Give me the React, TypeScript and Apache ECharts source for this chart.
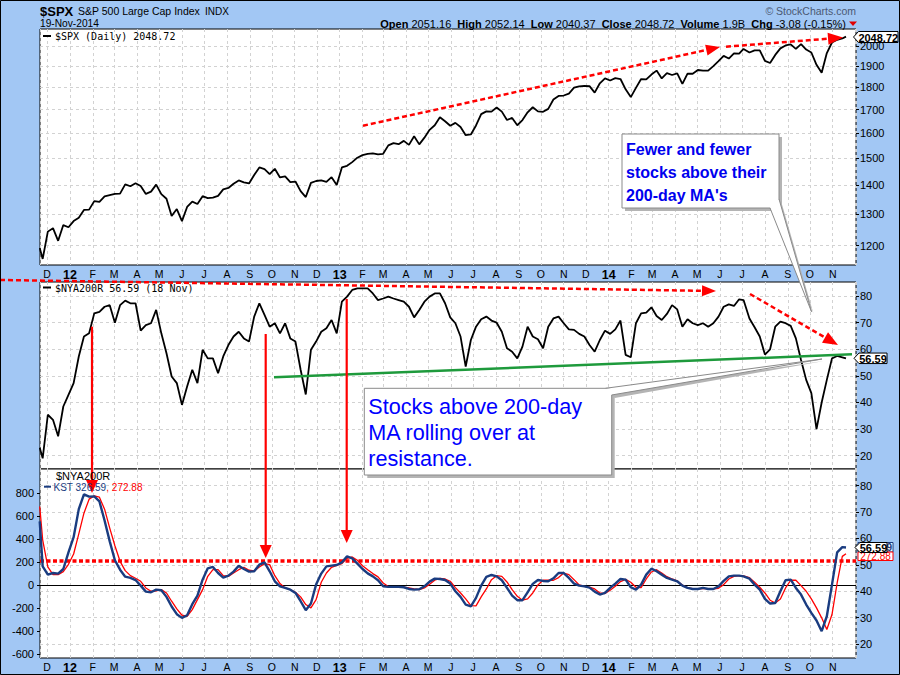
import React, { useEffect, useRef } from 'react';
import * as echarts from 'echarts';

const DATES = [
  '2011-11-21','2011-11-25','2011-12-02','2011-12-09','2011-12-16','2011-12-23','2011-12-30',
  '2012-01-06','2012-01-13','2012-01-20','2012-01-27','2012-02-03','2012-02-10','2012-02-17','2012-02-24',
  '2012-03-02','2012-03-09','2012-03-16','2012-03-23','2012-03-30','2012-04-06','2012-04-13','2012-04-20','2012-04-27',
  '2012-05-04','2012-05-11','2012-05-18','2012-05-25','2012-06-01','2012-06-08','2012-06-15','2012-06-22','2012-06-29',
  '2012-07-06','2012-07-13','2012-07-20','2012-07-27','2012-08-03','2012-08-10','2012-08-17','2012-08-24','2012-08-31',
  '2012-09-07','2012-09-14','2012-09-21','2012-09-28','2012-10-05','2012-10-12','2012-10-19','2012-10-26',
  '2012-11-02','2012-11-09','2012-11-16','2012-11-23','2012-11-30','2012-12-07','2012-12-14','2012-12-21','2012-12-28',
  '2013-01-04','2013-01-11','2013-01-18','2013-01-25','2013-02-01','2013-02-08','2013-02-15','2013-02-22',
  '2013-03-01','2013-03-08','2013-03-15','2013-03-22','2013-03-29','2013-04-05','2013-04-12','2013-04-19','2013-04-26',
  '2013-05-03','2013-05-10','2013-05-17','2013-05-24','2013-05-31','2013-06-07','2013-06-14','2013-06-21','2013-06-28',
  '2013-07-05','2013-07-12','2013-07-19','2013-07-26','2013-08-02','2013-08-09','2013-08-16','2013-08-23','2013-08-30',
  '2013-09-06','2013-09-13','2013-09-20','2013-09-27','2013-10-04','2013-10-11','2013-10-18','2013-10-25',
  '2013-11-01','2013-11-08','2013-11-15','2013-11-22','2013-11-29','2013-12-06','2013-12-13','2013-12-20','2013-12-27',
  '2014-01-03','2014-01-10','2014-01-17','2014-01-24','2014-01-31','2014-02-07','2014-02-14','2014-02-21','2014-02-28',
  '2014-03-07','2014-03-14','2014-03-21','2014-03-28','2014-04-04','2014-04-11','2014-04-18','2014-04-25',
  '2014-05-02','2014-05-09','2014-05-16','2014-05-23','2014-05-30','2014-06-06','2014-06-13','2014-06-20','2014-06-27',
  '2014-07-03','2014-07-11','2014-07-18','2014-07-25','2014-08-01','2014-08-08','2014-08-15','2014-08-22','2014-08-29',
  '2014-09-05','2014-09-12','2014-09-19','2014-09-26','2014-10-03','2014-10-10','2014-10-17','2014-10-24','2014-10-31',
  '2014-11-07','2014-11-14','2014-11-19'
];

const SPX = [
  1193,1160,1244,1255,1215,1265,1258,
  1278,1289,1315,1316, 1345,1342,1361,1366, 1370,1371,1404,1397,1408, 1398,1370,1378,1403,
  1369,1353,1295,1318, 1278,1325,1343,1335,1362, 1355,1357,1363,1386, 1391,1406,1418,1411,1407,
  1438,1466,1460,1441, 1461,1429,1433,1412, 1414,1380,1359,1409,1416, 1418,1413,1430,1402,
  1466,1472,1486,1503, 1513,1518,1520,1516, 1518,1551,1560,1556,1569, 1553,1588,1555,1582,
  1614,1633,1667,1650,1631, 1643,1626,1592,1595, 1632,1680,1692,1691, 1709,1691,1655,1664,1633,
  1655,1688,1710,1692, 1690,1703,1744,1760, 1762,1771,1798,1804,1806, 1805,1775,1818,1841,
  1831,1842,1838,1790,1755, 1797,1838,1836,1859, 1878,1841,1866,1857, 1865,1815,1864,1863,
  1881,1878,1878,1900,1924, 1950,1937,1963,1961, 1985,1967,1978,1978, 1925,1915,1955,1988,2003,
  2008,1985,2010,1982, 1967,1906,1868,1964,2018, 2032,2039,2048.72
];

const NYA200R = [
  23,19,35.4,33.5,27.3,38.5,42.9,
  47.3,57.3,64.8,66, 73.5,74.1,76,76.6, 70,76.6,78.3,77.3,77.3, 67,69.1,69.8,74.8,
  66,58.5,49.8,47.3, 39.1,46,52.3,47.3,59.8, 56.6,56.6,51,57.3, 61.6,64.8,66.6,64.1,62.9,
  72.3,77.3,72.9,68.5, 69.8,66,69.8,64.1, 62.9,52.3,43,59.8,62.9, 66.6,67.9,71,66,
  77.9,79.8,82.3,82.9, 82.9,82.9,81,78.5, 79.1,79.8,79.1,78.5,77.9, 76,72,74.8,77.9,
  79.8,81,81,77.3,72, 69.8,64.8,53.5,63.5, 68.5,71.3,72.3,70.8, 70,66.6,60.4,59.1,56.6,
  61,68.5,64.8,63.8, 60.4,68.5,71.6,72.3, 69.8,67.5,67.3,65.8,64.8, 61.6,59.1,63.5,67,
  65.8,67.5,70.8,57.9,57, 69.8,73.5,73.8,75.8, 72.5,71,73.3,76.6, 75,68.5,71.3,69.8,
  69.1,69.8,68.5,69.8,72.3, 76,76.9,76.3,78.8, 78.5,71.6,68.3,64.8, 58,60,68.5,70.4,69.8,
  68.8,64.1,56,48.5, 43.5,30,40,48.5,56.6, 57.5,57,56.59
];

const KST = [
  554,162,90,104,99,139,284,
  417,661,790,770, 772,728,562,380, 215,133,72,61,43, -6,-58,-64,-41,
  -46,-104,-188,-255, -287,-264,-168,-93,46, 145,157,104,64, 81,116,168,139,116,
  119,177,197,119, 32,-12,-26,-41, -70,-142,-220,-162,3, 99,162,168,174,
  197,249,232,186, 139,101,75,41, -12,-17,-17,-17,-20, -35,-41,-38,-12,
  29,55,52,43,12, -55,-104,-171,-186, -113,-6,70,87, 75,41,-26,-93,-133,
  -133,-64,9,43, 35,32,58,104, 104,61,12,-6,-12, -23,-58,-84,-70,
  -26,12,52,46,-20, -41,3,90,142, 119,90,61,46, 32,-6,-26,-35,
  -35,-26,-35,-35,-12, 35,75,81,81, 75,55,3,-41, -122,-162,-157,-55,41,
  46,-26,-84,-171, -244,-310,-403,-273,3, 284,330,326.59
];

const KST_SIGNAL = [
  684,394,157,90,90,116,180,
  270,446,626,748, 777,765,661,496, 342,206,125,81,58, 32,-26,-55,-52,
  -41,-70,-142,-209, -264,-273,-215,-128,-41, 75,133,133,81, 75,104,133,154,128,
  122,157,186,177, 81,12,-26,-41, -64,-104,-171,-200,-128, 23,104,154,171,
  186,232,244,215, 168,133,99,70, 17,-14,-20,-20,-20, -26,-35,-41,-26,
  6,41,58,52,32, -23,-70,-122,-180, -183,-104,-35,46, 81,75,26,-41,-99,
  -133,-122,-70,0, 41,41,41,64, 104,90,46,0,-12, -20,-35,-70,-75,
  -46,-12,29,49,23, -20,-23,52,113, 133,104,72,52, 35,0,-26,-32,
  -35,-32,-32,-35,-29, 3,52,75,81, 78,64,23,-20, -70,-133,-157,-122,-26,
  41,41,-6,-55, -122,-200,-287,-388,-258, 17,249,272.88
];

const SPX_TICKS = [1200, 1300, 1400, 1500, 1600, 1700, 1800, 1900, 2000];
const PCT_TICKS = [20, 30, 40, 50, 60, 70, 80];
const KST_TICKS = [-600, -400, -200, 0, 200, 400, 600, 800];
const KST_RESISTANCE = 211;
const MONTH_LETTERS = ['J', 'F', 'M', 'A', 'M', 'J', 'J', 'A', 'S', 'O', 'N', 'D'];

const FONT = '"Liberation Sans", Arial, sans-serif';
const MONO = '"DejaVu Sans Mono", "Liberation Mono", monospace';
const DAY = 86400000;
const X_MIN = new Date(2011, 10, 21, 9).getTime();
const X_MAX = new Date(2014, 11, 2, 14).getTime();
const LAST_LABEL = new Date(2014, 10, 20).getTime();
const BG = '#a2c7f4';
const NAVY = '#1a3c80';
const GRIDLINE = { color: '#d2d2d2', type: [3, 3] as any, width: 1 };

function xAxisFor(gridIndex: number, showLabels: boolean) {
  return {
    type: 'time', gridIndex, min: X_MIN, max: X_MAX,
    minInterval: 27 * DAY, maxInterval: 31 * DAY, splitNumber: 40,
    axisLine: { show: false }, axisTick: { show: false },
    splitLine: { show: true, lineStyle: GRIDLINE },
    axisLabel: {
      show: showLabels, margin: 3, color: '#000', fontSize: 10.5, fontFamily: FONT,
      showMinLabel: false, showMaxLabel: false, hideOverlap: false,
      formatter: (v: number) => {
        if (v > LAST_LABEL) return '';
        const d = new Date(v);
        const m = d.getMonth();
        return m === 0 ? `{y|${String(d.getFullYear()).slice(2)}}` : `{m|${MONTH_LETTERS[m]}}`;
      },
      rich: {
        y: { fontWeight: 'bold', fontSize: 12.5, fontFamily: FONT, color: '#000' },
        m: { fontSize: 10.5, fontFamily: FONT, color: '#000' },
      },
    },
  };
}

function yAxisFor(gridIndex: number, position: string, min: number, max: number, ticks: number[], fmt: (v: number) => string, split: boolean) {
  return {
    type: 'value', gridIndex, position, min, max,
    axisLine: { show: false },
    axisTick: { show: true, length: 3, customValues: ticks, lineStyle: { color: '#000' } },
    axisLabel: { customValues: ticks, formatter: fmt, color: '#000', fontSize: 11, fontFamily: FONT, margin: position === 'right' ? 4 : 6 },
    splitLine: { show: split, lineStyle: GRIDLINE },
  };
}

function txt(x: number, y: number, text: string, o: any = {}) {
  return {
    type: 'text', x, y, z: 180, silent: true,
    style: {
      text, fill: o.fill || '#000', fontSize: o.size || 11, fontFamily: o.family || FONT,
      fontWeight: o.weight || 'normal', align: o.align || 'left', verticalAlign: 'middle', rich: o.rich,
    },
  };
}

function arrow(x1: number, y1: number, x2: number, y2: number, dashed: boolean, width: number, headLen: number, headHalf: number) {
  const dx = x2 - x1, dy = y2 - y1, L = Math.hypot(dx, dy);
  const ux = dx / L, uy = dy / L;
  const bx = x2 - ux * headLen, by = y2 - uy * headLen;
  const px = -uy, py = ux;
  return [
    { type: 'line', z: 150, silent: true, shape: { x1, y1, x2: bx, y2: by }, style: { stroke: '#ff0000', lineWidth: width, lineDash: dashed ? [5, 3] : null } },
    { type: 'polygon', z: 150, silent: true, shape: { points: [[x2, y2], [bx + px * headHalf, by + py * headHalf], [bx - px * headHalf, by - py * headHalf]] }, style: { fill: '#ff0000' } },
  ];
}

function tag(x: number, y: number, w: number, h: number, text: string, color: string, z: number) {
  return [
    { type: 'polygon', z, silent: true, shape: { points: [[x, y], [x + 5, y - h / 2], [x + w, y - h / 2], [x + w, y + h / 2], [x + 5, y + h / 2]] }, style: { fill: '#fff', stroke: color, lineWidth: 1 } },
    { type: 'text', z: z + 1, silent: true, x: x + 5 + (w - 5) / 2, y: y + 0.5, style: { text, fill: color, fontSize: 11, fontWeight: 'bold', fontFamily: FONT, align: 'center', verticalAlign: 'middle' } },
  ];
}

function buildGraphics() {
  const g: any[] = [];
  // header
  g.push(txt(40, 11, '$SPX', { size: 13, weight: 'bold' }));
  g.push(txt(78, 11, 'S&P 500 Large Cap Index', { size: 10.5 }));
  g.push(txt(205, 11, 'INDX', { size: 10 }));
  g.push(txt(40, 23.5, '19-Nov-2014', { size: 10.2 }));
  g.push(txt(856, 10.5, '\u00a9 StockCharts.com', { size: 10.5, align: 'right', fill: '#4a5872' }));
  g.push(txt(846, 23.5, '{b|Open} 2051.16  {b|High} 2052.14  {b|Low} 2040.37  {b|Close} 2048.72  {b|Volume} 1.9B  {b|Chg} -3.08 (-0.15%)', {
    size: 11, align: 'right', rich: { b: { fontWeight: 'bold', fontSize: 11, fontFamily: FONT, fill: '#000' } },
  }));
  g.push({ type: 'polygon', z: 180, silent: true, shape: { points: [[849, 21.5], [857, 21.5], [853, 26]] }, style: { fill: '#e00000' } });

  // legends
  g.push({ type: 'line', z: 180, silent: true, shape: { x1: 43, y1: 36, x2: 51, y2: 36 }, style: { stroke: '#000', lineWidth: 2 } });
  g.push(txt(55, 36.5, '$SPX (Daily) 2048.72', { size: 10, family: MONO }));
  g.push({ type: 'line', z: 180, silent: true, shape: { x1: 43, y1: 287.5, x2: 51, y2: 287.5 }, style: { stroke: '#000', lineWidth: 2 } });
  g.push(txt(55, 288, '$NYA200R 56.59 (18 Nov)', { size: 10, family: MONO }));
  g.push(txt(56, 476, '$NYA200R', { size: 11 }));
  g.push({ type: 'line', z: 180, silent: true, shape: { x1: 44, y1: 486.7, x2: 51, y2: 486.7 }, style: { stroke: NAVY, lineWidth: 2 } });
  g.push(txt(53.5, 487, '{n|KST 326.59}{r|, 272.88}', {
    size: 10, rich: { n: { fill: NAVY, fontSize: 10, fontFamily: FONT }, r: { fill: '#ff0000', fontSize: 10, fontFamily: FONT } },
  }));

  // green support line
  g.push({ type: 'line', z: 150, silent: true, shape: { x1: 274, y1: 377.3, x2: 852, y2: 354.3 }, style: { stroke: '#1e9a3c', lineWidth: 2.5 } });

  // red dashed arrows
  g.push(...arrow(363, 125.7, 720, 47, true, 2.5, 14, 5.5));
  g.push(...arrow(726, 46.7, 843, 37.5, true, 2.5, 15, 6));
  g.push(...arrow(0, 280, 716, 291, true, 2.5, 14, 5.5));
  g.push(...arrow(750, 294, 838, 345, true, 2.5, 15, 6));
  // red vertical arrows
  g.push(...arrow(92, 326.7, 92, 493, false, 2.2, 13, 6));
  g.push(...arrow(265.7, 334, 265.7, 558, false, 2.2, 13, 6));
  g.push(...arrow(346.7, 299, 346.7, 543, false, 2.2, 13, 6));

  // callout 1
  g.push({ type: 'rect', z: 160, silent: true, shape: { x: 625, y: 137, width: 157, height: 74 }, style: { fill: '#b4b4b4' } });
  g.push({ type: 'polygon', z: 160, silent: true, shape: { points: [[772, 210], [813.5, 313.7], [781, 201]] }, style: { fill: '#b4b4b4' } });
  g.push({ type: 'rect', z: 161, silent: true, shape: { x: 622, y: 134, width: 157, height: 74 }, style: { fill: '#fff', stroke: '#8a8a8a', lineWidth: 1 } });
  g.push({ type: 'polygon', z: 162, silent: true, shape: { points: [[770, 207.5], [811.5, 311.7], [779, 199]] }, style: { fill: '#fff' } });
  g.push({ type: 'polyline', z: 162, silent: true, shape: { points: [[770, 208], [811.5, 311.7], [779, 199]] }, style: { stroke: '#8a8a8a', lineWidth: 1, fill: null } });
  const c1 = { size: 16, weight: 'bold', fill: '#0000ee' };
  g.push({ ...txt(626, 149.5, 'Fewer and fewer', c1), z: 163 });
  g.push({ ...txt(626, 172.5, 'stocks above their', c1), z: 163 });
  g.push({ ...txt(626, 195.5, "200-day MA's", c1), z: 163 });

  // callout 2
  g.push({ type: 'rect', z: 160, silent: true, shape: { x: 367.3, y: 391.3, width: 247.4, height: 86.7 }, style: { fill: '#b4b4b4' } });
  g.push({ type: 'polygon', z: 160, silent: true, shape: { points: [[609.5, 391.3], [824, 361], [614.7, 398]] }, style: { fill: '#b4b4b4' } });
  g.push({ type: 'rect', z: 161, silent: true, shape: { x: 364.3, y: 388.3, width: 247.4, height: 86.7 }, style: { fill: '#fff', stroke: '#8a8a8a', lineWidth: 1 } });
  g.push({ type: 'polygon', z: 162, silent: true, shape: { points: [[605.5, 388.8], [822, 359], [611.2, 395]] }, style: { fill: '#fff' } });
  g.push({ type: 'polyline', z: 162, silent: true, shape: { points: [[605.5, 388.3], [822, 359], [611.7, 395]] }, style: { stroke: '#8a8a8a', lineWidth: 1, fill: null } });
  const c2 = { size: 21.6, fill: '#0000ff' };
  g.push({ ...txt(368.3, 406, 'Stocks above 200-day', c2), z: 163 });
  g.push({ ...txt(368.3, 432.5, 'MA rolling over at', c2), z: 163 });
  g.push({ ...txt(368.3, 458.5, 'resistance.', c2), z: 163 });

  // value tags
  g.push(...tag(853.5, 37, 44.5, 11, '2048.72', '#000', 170));
  g.push(...tag(854, 358.3, 33, 10.5, '56.59', '#000', 170));
  g.push({ type: 'rect', z: 168, silent: true, shape: { x: 858, y: 542.5, width: 35, height: 9.5 }, style: { fill: '#fff', stroke: NAVY, lineWidth: 1 } });
  g.push({ type: 'text', z: 169, silent: true, x: 892, y: 547.5, style: { text: '326.59', fill: NAVY, fontSize: 10, fontWeight: 'bold', fontFamily: FONT, align: 'right', verticalAlign: 'middle' } });
  g.push({ type: 'rect', z: 168, silent: true, shape: { x: 858, y: 552, width: 35, height: 8.5 }, style: { fill: '#fff', stroke: '#ff0000', lineWidth: 1 } });
  g.push({ type: 'text', z: 169, silent: true, x: 875.5, y: 556.5, style: { text: '272.88', fill: '#ff0000', fontSize: 10, fontFamily: FONT, align: 'center', verticalAlign: 'middle' } });
  g.push(...tag(855, 547.5, 32, 10, '56.59', '#000', 172));

  // outer border
  g.push({ type: 'rect', z: 200, silent: true, shape: { x: 0.5, y: 0.5, width: 899, height: 674 }, style: { fill: null, stroke: '#000', lineWidth: 1 } });
  return g;
}

export default function App() {
  const ref = useRef<HTMLDivElement>(null);
  useEffect(() => {
    document.body.style.margin = '0';
    const chart = echarts.init(ref.current as HTMLDivElement, null, { renderer: 'svg' });
    const gridBase = { show: true, left: 40, width: 816, backgroundColor: '#fff', borderColor: '#000', borderWidth: 1, containLabel: false, outerBoundsMode: 'none' };
    const option: any = {
      animation: false,
      backgroundColor: BG,
      textStyle: { fontFamily: FONT },
      grid: [
        { ...gridBase, top: 29, height: 236 },
        { ...gridBase, top: 282, height: 187 },
        { ...gridBase, top: 469, height: 189 },
      ],
      xAxis: [xAxisFor(0, true), xAxisFor(1, false), xAxisFor(2, true)],
      yAxis: [
        yAxisFor(0, 'right', Math.log(1142.2), Math.log(2088.9), SPX_TICKS.map((v) => Math.log(v)), (v) => String(Math.round(Math.exp(v))), true),
        yAxisFor(1, 'right', 15, 85.3, PCT_TICKS, (v) => String(Math.round(v)), true),
        yAxisFor(2, 'left', -637, 1011, KST_TICKS, (v) => String(Math.round(v)), false),
        yAxisFor(2, 'right', 14.7, 86.3, PCT_TICKS, (v) => String(Math.round(v)), true),
      ],
      series: [
        {
          type: 'line', xAxisIndex: 0, yAxisIndex: 0, showSymbol: false, silent: true,
          data: DATES.map((d, i) => [d, Math.log(SPX[i])]),
          lineStyle: { color: '#000', width: 1.8 }, z: 5,
        },
        {
          type: 'line', xAxisIndex: 1, yAxisIndex: 1, showSymbol: false, silent: true,
          data: DATES.map((d, i) => [d, NYA200R[i]]),
          lineStyle: { color: '#000', width: 1.8 }, z: 5,
        },
        {
          type: 'line', xAxisIndex: 2, yAxisIndex: 2, showSymbol: false, silent: true,
          data: DATES.map((d, i) => [d, KST_SIGNAL[i]]),
          lineStyle: { color: '#ff0000', width: 1.3 }, z: 5,
        },
        {
          type: 'line', xAxisIndex: 2, yAxisIndex: 2, showSymbol: false, silent: true,
          data: DATES.map((d, i) => [d, KST[i]]),
          lineStyle: { color: NAVY, width: 2.4 }, z: 6,
          markLine: {
            silent: true, symbol: ['none', 'none'], label: { show: false }, animation: false,
            data: [
              { yAxis: 0, lineStyle: { color: '#000', type: 'solid', width: 1 } },
              { yAxis: KST_RESISTANCE, lineStyle: { color: '#ff0000', type: [4, 2.5], width: 3.5 } },
            ],
          },
        },
      ],
      graphic: { elements: buildGraphics() },
    };
    chart.setOption(option);
    return () => chart.dispose();
  }, []);
  return <div ref={ref} style={{ width: 900, height: 675 }} />;
}
